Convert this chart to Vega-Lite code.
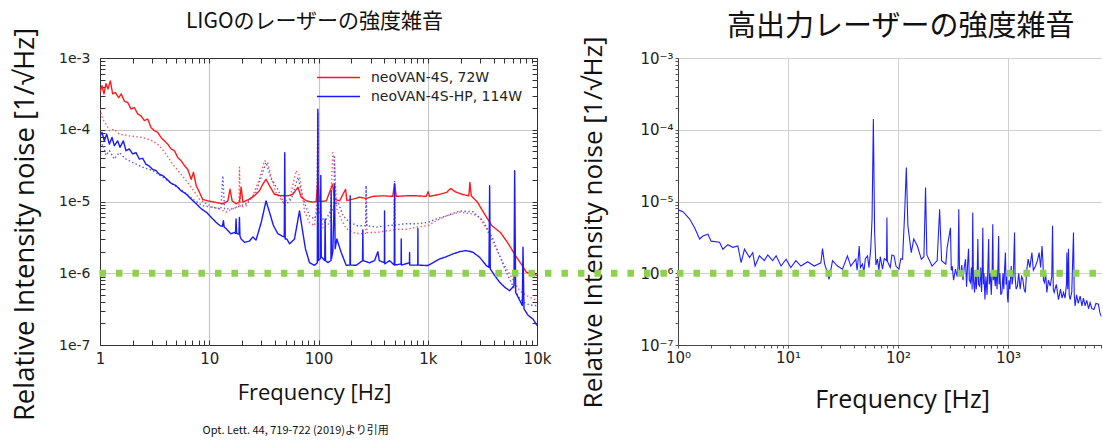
{
 "$schema": "https://vega.github.io/schema/vega-lite/v6.json",
 "padding": {"left": 10, "top": 10, "right": 0, "bottom": 0},
 "background": "white",
 "bounds": "flush",
 "spacing": 141,
 "config": {
  "view": {"stroke": null},
  "axis": {"labelFont": "DejaVu Sans", "titleFont": "Open Sans", "titleFontWeight": "normal", "labelColor": "#222", "titleColor": "#111"},
  "title": {"font": "Noto Sans CJK JP", "fontWeight": "normal", "color": "#111"}
 },
 "title": {"text": "Opt. Lett. 44, 719-722 (2019)より引用", "orient": "bottom", "anchor": "start", "fontSize": 11, "dx": 192, "offset": 4, "font": "Noto Sans CJK JP", "fontWeight": "normal"},
 "datasets": {
  "green": [{"f": 5.5e-6, "f2": 20000, "v": 1e-6}],
  "ligo": [
   {"s":"r","d":"dot","f":1,"v":1.94e-4},{"s":"r","d":"dot","f":1.06,"v":1.41e-4},{"s":"r","d":"dot","f":1.135,"v":1.2e-4},{"s":"r","d":"dot","f":1.22,"v":9.7e-5},{"s":"r","d":"dot","f":1.35,"v":1.02e-4},{"s":"r","d":"dot","f":1.5,"v":8.7e-5},{"s":"r","d":"dot","f":1.86,"v":8.2e-5},{"s":"r","d":"dot","f":2.46,"v":7.8e-5},{"s":"r","d":"dot","f":3.04,"v":7.0e-5},{"s":"r","d":"dot","f":3.49,"v":6.0e-5},{"s":"r","d":"dot","f":4.02,"v":4.6e-5},{"s":"r","d":"dot","f":4.63,"v":3.3e-5},{"s":"r","d":"dot","f":5.33,"v":2.55e-5},{"s":"r","d":"dot","f":6.15,"v":1.95e-5},{"s":"r","d":"dot","f":7.07,"v":1.48e-5},{"s":"r","d":"dot","f":8.12,"v":1.08e-5},{"s":"r","d":"dot","f":9.4,"v":9.3e-6},{"s":"r","d":"dot","f":10.8,"v":8.3e-6},{"s":"r","d":"dot","f":12.4,"v":7.9e-6},{"s":"r","d":"dot","f":14.2,"v":7.1e-6},{"s":"r","d":"dot","f":16.4,"v":7.9e-6},{"s":"r","d":"dot","f":18.7,"v":8.7e-6},{"s":"r","d":"dot","f":18.9,"v":3.0e-5},{"s":"r","d":"dot","f":19.3,"v":8.3e-6},{"s":"r","d":"dot","f":21.7,"v":8.7e-6},{"s":"r","d":"dot","f":25,"v":1.2e-5},{"s":"r","d":"dot","f":28.8,"v":2.05e-5},{"s":"r","d":"dot","f":32,"v":3.7e-5},{"s":"r","d":"dot","f":34.2,"v":3.5e-5},{"s":"r","d":"dot","f":36.9,"v":2.2e-5},{"s":"r","d":"dot","f":40.8,"v":1.34e-5},{"s":"r","d":"dot","f":47.2,"v":9.8e-6},{"s":"r","d":"dot","f":54.3,"v":1.08e-5},{"s":"r","d":"dot","f":62.6,"v":2.7e-5},{"s":"r","d":"dot","f":67,"v":2.3e-5},{"s":"r","d":"dot","f":74.8,"v":7.1e-6},{"s":"r","d":"dot","f":82.7,"v":5.1e-6},{"s":"r","d":"dot","f":91.9,"v":4.6e-6},{"s":"r","d":"dot","f":96.5,"v":9.8e-6},{"s":"r","d":"dot","f":98.6,"v":1.65e-4},{"s":"r","d":"dot","f":100.7,"v":7.9e-6},{"s":"r","d":"dot","f":110.5,"v":4.2e-6},{"s":"r","d":"dot","f":127.5,"v":5.1e-6},{"s":"r","d":"dot","f":135,"v":4.8e-5},{"s":"r","d":"dot","f":140,"v":3.5e-5},{"s":"r","d":"dot","f":147,"v":7.9e-6},{"s":"r","d":"dot","f":161,"v":5.7e-6},{"s":"r","d":"dot","f":179,"v":4.2e-6},{"s":"r","d":"dot","f":207,"v":3.7e-6},{"s":"r","d":"dot","f":238,"v":3.55e-6},{"s":"r","d":"dot","f":270,"v":3.6e-6},{"s":"r","d":"dot","f":273,"v":1.66e-5},{"s":"r","d":"dot","f":278,"v":3.7e-6},{"s":"r","d":"dot","f":339,"v":3.7e-6},{"s":"r","d":"dot","f":417,"v":3.9e-6},{"s":"r","d":"dot","f":494,"v":4.0e-6},{"s":"r","d":"dot","f":497,"v":1.85e-5},{"s":"r","d":"dot","f":500,"v":4.1e-6},{"s":"r","d":"dot","f":638,"v":4.1e-6},{"s":"r","d":"dot","f":789,"v":4.4e-6},{"s":"r","d":"dot","f":1003,"v":4.6e-6},{"s":"r","d":"dot","f":1195,"v":5.4e-6},{"s":"r","d":"dot","f":1477,"v":6.3e-6},{"s":"r","d":"dot","f":1957,"v":7.1e-6},{"s":"r","d":"dot","f":2593,"v":6.7e-6},{"s":"r","d":"dot","f":2985,"v":6.0e-6},{"s":"r","d":"dot","f":3435,"v":4.2e-6},{"s":"r","d":"dot","f":3953,"v":2.7e-6},{"s":"r","d":"dot","f":4550,"v":1.75e-6},{"s":"r","d":"dot","f":5240,"v":1.15e-6},{"s":"r","d":"dot","f":6000,"v":8.3e-7},{"s":"r","d":"dot","f":6939,"v":5.7e-7},{"s":"r","d":"dot","f":7980,"v":4.9e-7},{"s":"r","d":"dot","f":9192,"v":4.4e-7},{"s":"r","d":"dot","f":10000,"v":4.2e-7},
   {"s":"b","d":"dot","f":1,"v":5.4e-5},{"s":"b","d":"dot","f":1.06,"v":6.3e-5},{"s":"b","d":"dot","f":1.135,"v":4.4e-5},{"s":"b","d":"dot","f":1.22,"v":5.1e-5},{"s":"b","d":"dot","f":1.35,"v":3.9e-5},{"s":"b","d":"dot","f":1.5,"v":4.8e-5},{"s":"b","d":"dot","f":1.73,"v":3.9e-5},{"s":"b","d":"dot","f":1.99,"v":3.5e-5},{"s":"b","d":"dot","f":2.46,"v":3.0e-5},{"s":"b","d":"dot","f":3.04,"v":2.7e-5},{"s":"b","d":"dot","f":3.75,"v":2.18e-5},{"s":"b","d":"dot","f":4.63,"v":1.74e-5},{"s":"b","d":"dot","f":5.72,"v":1.41e-5},{"s":"b","d":"dot","f":7.07,"v":1.08e-5},{"s":"b","d":"dot","f":8.7,"v":8.7e-6},{"s":"b","d":"dot","f":10.8,"v":8.3e-6},{"s":"b","d":"dot","f":12.8,"v":7.9e-6},{"s":"b","d":"dot","f":13.3,"v":2.29e-5},{"s":"b","d":"dot","f":13.8,"v":7.9e-6},{"s":"b","d":"dot","f":16.4,"v":7.9e-6},{"s":"b","d":"dot","f":21.7,"v":9.3e-6},{"s":"b","d":"dot","f":26.8,"v":1.34e-5},{"s":"b","d":"dot","f":30.9,"v":2.55e-5},{"s":"b","d":"dot","f":33.1,"v":3.5e-5},{"s":"b","d":"dot","f":36.9,"v":2.06e-5},{"s":"b","d":"dot","f":42.5,"v":1.48e-5},{"s":"b","d":"dot","f":49,"v":8.7e-6},{"s":"b","d":"dot","f":56.4,"v":1.08e-5},{"s":"b","d":"dot","f":64.9,"v":2.18e-5},{"s":"b","d":"dot","f":72.4,"v":1.08e-5},{"s":"b","d":"dot","f":82.7,"v":6.3e-6},{"s":"b","d":"dot","f":91.9,"v":5.7e-6},{"s":"b","d":"dot","f":97.5,"v":7.0e-6},{"s":"b","d":"dot","f":98.6,"v":1.74e-4},{"s":"b","d":"dot","f":100,"v":8.0e-6},{"s":"b","d":"dot","f":102,"v":7.1e-6},{"s":"b","d":"dot","f":114,"v":5.1e-6},{"s":"b","d":"dot","f":127,"v":7.1e-6},{"s":"b","d":"dot","f":138,"v":8.0e-6},{"s":"b","d":"dot","f":140,"v":4.4e-5},{"s":"b","d":"dot","f":142,"v":9.0e-6},{"s":"b","d":"dot","f":151,"v":9.8e-6},{"s":"b","d":"dot","f":168,"v":6.3e-6},{"s":"b","d":"dot","f":193,"v":5.1e-6},{"s":"b","d":"dot","f":227,"v":4.6e-6},{"s":"b","d":"dot","f":270,"v":4.6e-6},{"s":"b","d":"dot","f":273,"v":1.66e-5},{"s":"b","d":"dot","f":276,"v":4.6e-6},{"s":"b","d":"dot","f":339,"v":4.4e-6},{"s":"b","d":"dot","f":417,"v":4.6e-6},{"s":"b","d":"dot","f":494,"v":4.7e-6},{"s":"b","d":"dot","f":497,"v":1.95e-5},{"s":"b","d":"dot","f":500,"v":4.7e-6},{"s":"b","d":"dot","f":638,"v":4.9e-6},{"s":"b","d":"dot","f":789,"v":4.9e-6},{"s":"b","d":"dot","f":1003,"v":5.1e-6},{"s":"b","d":"dot","f":1195,"v":5.7e-6},{"s":"b","d":"dot","f":1477,"v":6.3e-6},{"s":"b","d":"dot","f":1957,"v":7.4e-6},{"s":"b","d":"dot","f":2593,"v":7.2e-6},{"s":"b","d":"dot","f":3200,"v":5.4e-6},{"s":"b","d":"dot","f":3953,"v":3.0e-6},{"s":"b","d":"dot","f":4550,"v":1.75e-6},{"s":"b","d":"dot","f":5240,"v":1.03e-6},{"s":"b","d":"dot","f":6000,"v":6.7e-7},{"s":"b","d":"dot","f":6939,"v":4.4e-7},{"s":"b","d":"dot","f":7980,"v":3.75e-7},{"s":"b","d":"dot","f":9192,"v":3.55e-7},{"s":"b","d":"dot","f":10000,"v":3.55e-7},
   {"s":"R","d":"solid","f":1,"v":3.3e-4},{"s":"R","d":"solid","f":1.043,"v":4.1e-4},{"s":"R","d":"solid","f":1.088,"v":3.16e-4},{"s":"R","d":"solid","f":1.135,"v":4.4e-4},{"s":"R","d":"solid","f":1.184,"v":3.7e-4},{"s":"R","d":"solid","f":1.243,"v":4.8e-4},{"s":"R","d":"solid","f":1.306,"v":3.16e-4},{"s":"R","d":"solid","f":1.382,"v":3.3e-4},{"s":"R","d":"solid","f":1.483,"v":2.8e-4},{"s":"R","d":"solid","f":1.568,"v":3.16e-4},{"s":"R","d":"solid","f":1.67,"v":2.5e-4},{"s":"R","d":"solid","f":1.792,"v":2.4e-4},{"s":"R","d":"solid","f":1.923,"v":1.95e-4},{"s":"R","d":"solid","f":2.063,"v":2.04e-4},{"s":"R","d":"solid","f":2.214,"v":1.66e-4},{"s":"R","d":"solid","f":2.375,"v":1.56e-4},{"s":"R","d":"solid","f":2.548,"v":1.34e-4},{"s":"R","d":"solid","f":2.734,"v":1.41e-4},{"s":"R","d":"solid","f":2.933,"v":1.07e-4},{"s":"R","d":"solid","f":3.147,"v":9.7e-5},{"s":"R","d":"solid","f":3.376,"v":9.2e-5},{"s":"R","d":"solid","f":3.622,"v":7.8e-5},{"s":"R","d":"solid","f":3.886,"v":7.0e-5},{"s":"R","d":"solid","f":4.169,"v":6.3e-5},{"s":"R","d":"solid","f":4.47,"v":5.4e-5},{"s":"R","d":"solid","f":4.8,"v":5.1e-5},{"s":"R","d":"solid","f":5.15,"v":4.1e-5},{"s":"R","d":"solid","f":5.53,"v":3.7e-5},{"s":"R","d":"solid","f":5.93,"v":3.16e-5},{"s":"R","d":"solid","f":6.36,"v":2.8e-5},{"s":"R","d":"solid","f":6.83,"v":2.04e-5},{"s":"R","d":"solid","f":7.17,"v":2.55e-5},{"s":"R","d":"solid","f":7.6,"v":1.66e-5},{"s":"R","d":"solid","f":8.12,"v":1.35e-5},{"s":"R","d":"solid","f":8.71,"v":1.07e-5},{"s":"R","d":"solid","f":9.69,"v":1.02e-5},{"s":"R","d":"solid","f":11.2,"v":9.8e-6},{"s":"R","d":"solid","f":13.3,"v":9.3e-6},{"s":"R","d":"solid","f":14.8,"v":1.02e-5},{"s":"R","d":"solid","f":15.5,"v":1.48e-5},{"s":"R","d":"solid","f":16.2,"v":1.02e-5},{"s":"R","d":"solid","f":17.6,"v":9.3e-6},{"s":"R","d":"solid","f":18.9,"v":9.8e-6},{"s":"R","d":"solid","f":19.6,"v":1.58e-5},{"s":"R","d":"solid","f":20.3,"v":9.8e-6},{"s":"R","d":"solid","f":23.3,"v":1.08e-5},{"s":"R","d":"solid","f":25.9,"v":1.2e-5},{"s":"R","d":"solid","f":28.8,"v":1.41e-5},{"s":"R","d":"solid","f":30.9,"v":1.74e-5},{"s":"R","d":"solid","f":33.1,"v":2.04e-5},{"s":"R","d":"solid","f":35.6,"v":1.66e-5},{"s":"R","d":"solid","f":39.6,"v":1.26e-5},{"s":"R","d":"solid","f":45.5,"v":1.2e-5},{"s":"R","d":"solid","f":52.5,"v":1.2e-5},{"s":"R","d":"solid","f":58.3,"v":1.26e-5},{"s":"R","d":"solid","f":64.9,"v":1.58e-5},{"s":"R","d":"solid","f":69.4,"v":1.15e-5},{"s":"R","d":"solid","f":77.3,"v":1.02e-5},{"s":"R","d":"solid","f":88.8,"v":9.8e-6},{"s":"R","d":"solid","f":95.2,"v":1.0e-5},{"s":"R","d":"solid","f":98.9,"v":2.0e-5},{"s":"R","d":"solid","f":102,"v":1.0e-5},{"s":"R","d":"solid","f":118,"v":1.02e-5},{"s":"R","d":"solid","f":134.5,"v":1.74e-5},{"s":"R","d":"solid","f":140,"v":1.08e-5},{"s":"R","d":"solid","f":156,"v":1.02e-5},{"s":"R","d":"solid","f":177,"v":1.48e-5},{"s":"R","d":"solid","f":182,"v":1.03e-5},{"s":"R","d":"solid","f":207,"v":1.08e-5},{"s":"R","d":"solid","f":238,"v":1.15e-5},{"s":"R","d":"solid","f":273,"v":1.1e-5},{"s":"R","d":"solid","f":314,"v":1.18e-5},{"s":"R","d":"solid","f":389,"v":1.2e-5},{"s":"R","d":"solid","f":478,"v":1.18e-5},{"s":"R","d":"solid","f":497,"v":1.74e-5},{"s":"R","d":"solid","f":515,"v":1.18e-5},{"s":"R","d":"solid","f":638,"v":1.2e-5},{"s":"R","d":"solid","f":789,"v":1.2e-5},{"s":"R","d":"solid","f":969,"v":1.18e-5},{"s":"R","d":"solid","f":1008,"v":1.37e-5},{"s":"R","d":"solid","f":1038,"v":1.18e-5},{"s":"R","d":"solid","f":1289,"v":1.26e-5},{"s":"R","d":"solid","f":1488,"v":1.34e-5},{"s":"R","d":"solid","f":1622,"v":1.52e-5},{"s":"R","d":"solid","f":1782,"v":1.37e-5},{"s":"R","d":"solid","f":2059,"v":1.26e-5},{"s":"R","d":"solid","f":2378,"v":1.2e-5},{"s":"R","d":"solid","f":2431,"v":1.85e-5},{"s":"R","d":"solid","f":2502,"v":1.2e-5},{"s":"R","d":"solid","f":2850,"v":9.8e-6},{"s":"R","d":"solid","f":3230,"v":7.1e-6},{"s":"R","d":"solid","f":3866,"v":4.6e-6},{"s":"R","d":"solid","f":4626,"v":3.7e-6},{"s":"R","d":"solid","f":5480,"v":2.57e-6},{"s":"R","d":"solid","f":6320,"v":1.78e-6},{"s":"R","d":"solid","f":7300,"v":1.29e-6},{"s":"R","d":"solid","f":8000,"v":1.03e-6},{"s":"R","d":"solid","f":9250,"v":9.8e-7},{"s":"R","d":"solid","f":10000,"v":9.3e-7},
   {"s":"B","d":"solid","f":1,"v":8.2e-5},{"s":"B","d":"solid","f":1.043,"v":9.2e-5},{"s":"B","d":"solid","f":1.096,"v":7.0e-5},{"s":"B","d":"solid","f":1.151,"v":8.7e-5},{"s":"B","d":"solid","f":1.218,"v":6.3e-5},{"s":"B","d":"solid","f":1.288,"v":7.8e-5},{"s":"B","d":"solid","f":1.353,"v":6.0e-5},{"s":"B","d":"solid","f":1.451,"v":7.0e-5},{"s":"B","d":"solid","f":1.524,"v":5.7e-5},{"s":"B","d":"solid","f":1.636,"v":7.0e-5},{"s":"B","d":"solid","f":1.731,"v":5.1e-5},{"s":"B","d":"solid","f":1.856,"v":5.4e-5},{"s":"B","d":"solid","f":1.991,"v":4.6e-5},{"s":"B","d":"solid","f":2.136,"v":4.8e-5},{"s":"B","d":"solid","f":2.291,"v":3.9e-5},{"s":"B","d":"solid","f":2.458,"v":4.0e-5},{"s":"B","d":"solid","f":2.637,"v":3.3e-5},{"s":"B","d":"solid","f":2.829,"v":3.1e-5},{"s":"B","d":"solid","f":3.035,"v":2.8e-5},{"s":"B","d":"solid","f":3.256,"v":2.7e-5},{"s":"B","d":"solid","f":3.493,"v":2.4e-5},{"s":"B","d":"solid","f":3.747,"v":2.3e-5},{"s":"B","d":"solid","f":4.02,"v":2.1e-5},{"s":"B","d":"solid","f":4.47,"v":1.8e-5},{"s":"B","d":"solid","f":4.97,"v":1.66e-5},{"s":"B","d":"solid","f":5.53,"v":1.41e-5},{"s":"B","d":"solid","f":6.15,"v":1.27e-5},{"s":"B","d":"solid","f":6.83,"v":1.08e-5},{"s":"B","d":"solid","f":7.6,"v":9.3e-6},{"s":"B","d":"solid","f":8.45,"v":7.9e-6},{"s":"B","d":"solid","f":9.4,"v":7.1e-6},{"s":"B","d":"solid","f":10.45,"v":6.0e-6},{"s":"B","d":"solid","f":11.6,"v":5.1e-6},{"s":"B","d":"solid","f":12.55,"v":4.6e-6},{"s":"B","d":"solid","f":13.2,"v":4.5e-6},{"s":"B","d":"solid","f":13.47,"v":5.4e-6},{"s":"B","d":"solid","f":13.7,"v":4.4e-6},{"s":"B","d":"solid","f":14.23,"v":4.2e-6},{"s":"B","d":"solid","f":15.8,"v":3.55e-6},{"s":"B","d":"solid","f":17.0,"v":3.7e-6},{"s":"B","d":"solid","f":17.4,"v":3.6e-6},{"s":"B","d":"solid","f":17.6,"v":5.7e-6},{"s":"B","d":"solid","f":17.8,"v":3.6e-6},{"s":"B","d":"solid","f":18.7,"v":3.5e-6},{"s":"B","d":"solid","f":18.9,"v":6.0e-6},{"s":"B","d":"solid","f":19.1,"v":3.3e-6},{"s":"B","d":"solid","f":19.6,"v":3.0e-6},{"s":"B","d":"solid","f":21,"v":2.7e-6},{"s":"B","d":"solid","f":23.3,"v":2.8e-6},{"s":"B","d":"solid","f":25,"v":3.2e-6},{"s":"B","d":"solid","f":26.8,"v":2.9e-6},{"s":"B","d":"solid","f":29.9,"v":5.1e-6},{"s":"B","d":"solid","f":33.1,"v":1.02e-5},{"s":"B","d":"solid","f":35.6,"v":7.1e-6},{"s":"B","d":"solid","f":38.7,"v":4.6e-6},{"s":"B","d":"solid","f":42.5,"v":3.55e-6},{"s":"B","d":"solid","f":46.6,"v":3.3e-6},{"s":"B","d":"solid","f":48.6,"v":3.2e-6},{"s":"B","d":"solid","f":49.1,"v":4.8e-5},{"s":"B","d":"solid","f":49.6,"v":3.0e-6},{"s":"B","d":"solid","f":51.4,"v":3.0e-6},{"s":"B","d":"solid","f":54.3,"v":2.57e-6},{"s":"B","d":"solid","f":60.3,"v":3.0e-6},{"s":"B","d":"solid","f":67,"v":7.4e-6},{"s":"B","d":"solid","f":70.9,"v":4.2e-6},{"s":"B","d":"solid","f":76,"v":2.18e-6},{"s":"B","d":"solid","f":82.7,"v":1.41e-6},{"s":"B","d":"solid","f":91.9,"v":1.29e-6},{"s":"B","d":"solid","f":97.5,"v":1.4e-6},{"s":"B","d":"solid","f":98.6,"v":1.94e-4},{"s":"B","d":"solid","f":99.7,"v":1.5e-6},{"s":"B","d":"solid","f":104,"v":1.6e-6},{"s":"B","d":"solid","f":105,"v":2.3e-5},{"s":"B","d":"solid","f":106,"v":1.7e-6},{"s":"B","d":"solid","f":114,"v":1.5e-6},{"s":"B","d":"solid","f":115,"v":5.7e-6},{"s":"B","d":"solid","f":116,"v":1.5e-6},{"s":"B","d":"solid","f":121.8,"v":1.41e-6},{"s":"B","d":"solid","f":130,"v":1.5e-6},{"s":"B","d":"solid","f":130.6,"v":1.4e-5},{"s":"B","d":"solid","f":131.5,"v":1.6e-6},{"s":"B","d":"solid","f":135.3,"v":2.0e-6},{"s":"B","d":"solid","f":140.2,"v":1.74e-5},{"s":"B","d":"solid","f":142,"v":2.2e-6},{"s":"B","d":"solid","f":147.2,"v":3.0e-6},{"s":"B","d":"solid","f":161.3,"v":1.95e-6},{"s":"B","d":"solid","f":179.2,"v":1.29e-6},{"s":"B","d":"solid","f":194,"v":1.3e-6},{"s":"B","d":"solid","f":195,"v":1.2e-5},{"s":"B","d":"solid","f":196,"v":1.3e-6},{"s":"B","d":"solid","f":221.3,"v":1.29e-6},{"s":"B","d":"solid","f":253,"v":1.5e-6},{"s":"B","d":"solid","f":254.7,"v":4.0e-6},{"s":"B","d":"solid","f":256,"v":1.5e-6},{"s":"B","d":"solid","f":293,"v":1.4e-6},{"s":"B","d":"solid","f":326,"v":1.5e-6},{"s":"B","d":"solid","f":349.5,"v":2.0e-6},{"s":"B","d":"solid","f":360,"v":1.5e-6},{"s":"B","d":"solid","f":401,"v":1.4e-6},{"s":"B","d":"solid","f":402.4,"v":7.4e-6},{"s":"B","d":"solid","f":404,"v":1.35e-6},{"s":"B","d":"solid","f":447,"v":1.5e-6},{"s":"B","d":"solid","f":494,"v":1.3e-6},{"s":"B","d":"solid","f":496.8,"v":1.74e-5},{"s":"B","d":"solid","f":500,"v":1.3e-6},{"s":"B","d":"solid","f":570,"v":1.35e-6},{"s":"B","d":"solid","f":571.9,"v":3.0e-6},{"s":"B","d":"solid","f":574,"v":1.3e-6},{"s":"B","d":"solid","f":680,"v":1.4e-6},{"s":"B","d":"solid","f":681.9,"v":1.95e-6},{"s":"B","d":"solid","f":684,"v":1.3e-6},{"s":"B","d":"solid","f":810,"v":1.3e-6},{"s":"B","d":"solid","f":812.7,"v":4.2e-6},{"s":"B","d":"solid","f":815,"v":1.3e-6},{"s":"B","d":"solid","f":1003,"v":1.28e-6},{"s":"B","d":"solid","f":1115,"v":1.4e-6},{"s":"B","d":"solid","f":1283,"v":1.58e-6},{"s":"B","d":"solid","f":1477,"v":1.7e-6},{"s":"B","d":"solid","f":1700,"v":1.86e-6},{"s":"B","d":"solid","f":1957,"v":2.0e-6},{"s":"B","d":"solid","f":2253,"v":2.07e-6},{"s":"B","d":"solid","f":2593,"v":1.96e-6},{"s":"B","d":"solid","f":2985,"v":1.67e-6},{"s":"B","d":"solid","f":3435,"v":1.28e-6},{"s":"B","d":"solid","f":3634,"v":1.21e-6},{"s":"B","d":"solid","f":3685,"v":1.66e-5},{"s":"B","d":"solid","f":3737,"v":1.15e-6},{"s":"B","d":"solid","f":4096,"v":9.3e-7},{"s":"B","d":"solid","f":4550,"v":7.5e-7},{"s":"B","d":"solid","f":5055,"v":6.4e-7},{"s":"B","d":"solid","f":5618,"v":5.7e-7},{"s":"B","d":"solid","f":6157,"v":6.7e-7},{"s":"B","d":"solid","f":6244,"v":2.68e-5},{"s":"B","d":"solid","f":6378,"v":5.4e-7},{"s":"B","d":"solid","f":6939,"v":4.2e-7},{"s":"B","d":"solid","f":7339,"v":3.55e-7},{"s":"B","d":"solid","f":7443,"v":2.3e-6},{"s":"B","d":"solid","f":7601,"v":3.2e-7},{"s":"B","d":"solid","f":8273,"v":2.6e-7},{"s":"B","d":"solid","f":9192,"v":2.3e-7},{"s":"B","d":"solid","f":10000,"v":1.87e-7}
  ],
  "hp": [
   {"f":1,"v":7.66e-6},{"f":1.11,"v":7.2e-6},{"f":1.276,"v":5.7e-6},{"f":1.416,"v":4.3e-6},{"f":1.571,"v":3.0e-6},{"f":1.685,"v":3.3e-6},{"f":1.871,"v":3.5e-6},{"f":2.0,"v":2.8e-6},{"f":2.386,"v":2.7e-6},{"f":2.56,"v":2.16e-6},{"f":2.84,"v":2.5e-6},{"f":3.15,"v":2.3e-6},{"f":3.5,"v":2.4e-6},{"f":3.75,"v":1.41e-6},{"f":4.02,"v":2.16e-6},{"f":4.47,"v":1.66e-6},{"f":4.78,"v":1.94e-6},{"f":5.02,"v":1.26e-6},{"f":5.5,"v":1.75e-6},{"f":6.1,"v":1.5e-6},{"f":6.55,"v":1.8e-6},{"f":7.25,"v":1.5e-6},{"f":7.8,"v":1.75e-6},{"f":8.65,"v":1.26e-6},{"f":9.6,"v":1.57e-6},{"f":10.6,"v":1.2e-6},{"f":11.8,"v":1.5e-6},{"f":13.1,"v":1.26e-6},{"f":15.1,"v":1.45e-6},{"f":17.3,"v":1.26e-6},{"f":19.9,"v":1.4e-6},{"f":20.6,"v":2.2e-6},{"f":21.5,"v":1.35e-6},{"f":22.8,"v":1.02e-6},{"f":23.6,"v":8.2e-7},{"f":25.4,"v":1.5e-6},{"f":28.2,"v":1.26e-6},{"f":31.3,"v":1.14e-6},{"f":34.7,"v":1.75e-6},{"f":37.2,"v":1.26e-6},{"f":41.4,"v":1.57e-6},{"f":42.5,"v":1.1e-6},{"f":43.5,"v":1.6e-6},{"f":44.4,"v":2.4e-6},{"f":45.5,"v":1.2e-6},{"f":47.5,"v":1.34e-6},{"f":49,"v":1.05e-6},{"f":50.5,"v":1.6e-6},{"f":52.8,"v":1.75e-6},{"f":54.5,"v":1.2e-6},{"f":56.5,"v":2.2e-6},{"f":58.1,"v":5.7e-6},{"f":59.7,"v":1.41e-4},{"f":61.3,"v":3.7e-6},{"f":63,"v":1.3e-6},{"f":65,"v":1.57e-6},{"f":67,"v":1.1e-6},{"f":69,"v":1.7e-6},{"f":72.3,"v":1.14e-6},{"f":75,"v":1.6e-6},{"f":78.6,"v":1.5e-6},{"f":79.3,"v":6.0e-6},{"f":80,"v":1.5e-6},{"f":81.2,"v":1.4e-6},{"f":85,"v":1.2e-6},{"f":88,"v":1.8e-6},{"f":92,"v":1.75e-6},{"f":96,"v":1.25e-6},{"f":102,"v":1.14e-6},{"f":106,"v":1.6e-6},{"f":110,"v":1.57e-6},{"f":115,"v":7.0e-6},{"f":119,"v":2.98e-5},{"f":123,"v":4.6e-6},{"f":132,"v":1.94e-6},{"f":139,"v":3.0e-6},{"f":150,"v":2.4e-6},{"f":163,"v":1.57e-6},{"f":172,"v":1.7e-6},{"f":178,"v":1.57e-5},{"f":183,"v":1.8e-6},{"f":204,"v":1.26e-6},{"f":227,"v":1.5e-6},{"f":239,"v":7.8e-6},{"f":249,"v":1.5e-6},{"f":272,"v":1.34e-6},{"f":280,"v":2.3e-6},{"f":300,"v":4.3e-6},{"f":305,"v":1.1e-6},{"f":311,"v":1.26e-6},{"f":320,"v":8.0e-7},{"f":333,"v":1.14e-6},{"f":345,"v":9.0e-7},{"f":352,"v":1.3e-6},{"f":357,"v":7.8e-6},{"f":362,"v":1.1e-6},{"f":369,"v":9.2e-7},{"f":380,"v":1.3e-6},{"f":390,"v":8.0e-7},{"f":400,"v":1.2e-6},{"f":411,"v":1.57e-6},{"f":420,"v":6.5e-7},{"f":430,"v":1.4e-6},{"f":438,"v":2.2e-6},{"f":445,"v":8.0e-7},{"f":456,"v":7.4e-7},{"f":465,"v":1.2e-6},{"f":472,"v":6.0e-7},{"f":478,"v":7.0e-6},{"f":485,"v":8.0e-7},{"f":497,"v":5.4e-7},{"f":505,"v":1.1e-6},{"f":515,"v":6.0e-7},{"f":525,"v":1.0e-6},{"f":532,"v":3.0e-6},{"f":540,"v":7.0e-7},{"f":553,"v":6.6e-7},{"f":565,"v":1.2e-6},{"f":575,"v":5.5e-7},{"f":583,"v":1.1e-6},{"f":590,"v":4.3e-6},{"f":598,"v":7.0e-7},{"f":605,"v":1.0e-6},{"f":617,"v":4.3e-7},{"f":630,"v":9.0e-7},{"f":645,"v":5.0e-7},{"f":655,"v":1.1e-6},{"f":667,"v":3.0e-6},{"f":675,"v":7.0e-7},{"f":690,"v":1.0e-6},{"f":705,"v":5.0e-7},{"f":718,"v":1.2e-6},{"f":727,"v":4.8e-6},{"f":735,"v":8.0e-7},{"f":750,"v":1.0e-6},{"f":766,"v":6.6e-7},{"f":780,"v":1.1e-6},{"f":795,"v":6.0e-7},{"f":810,"v":1.2e-6},{"f":822,"v":3.3e-6},{"f":830,"v":7.0e-7},{"f":845,"v":1.0e-6},{"f":860,"v":5.0e-7},{"f":881,"v":5.4e-7},{"f":900,"v":1.0e-6},{"f":915,"v":6.0e-7},{"f":930,"v":1.1e-6},{"f":947,"v":1.94e-6},{"f":960,"v":7.0e-7},{"f":975,"v":9.0e-7},{"f":990,"v":4.5e-7},{"f":1002,"v":3.9e-7},{"f":1020,"v":8.0e-7},{"f":1040,"v":6.0e-7},{"f":1069,"v":1.26e-6},{"f":1090,"v":7.0e-7},{"f":1120,"v":1.0e-6},{"f":1147,"v":3.7e-6},{"f":1160,"v":9.0e-7},{"f":1185,"v":6.0e-7},{"f":1218,"v":6.6e-7},{"f":1250,"v":1.0e-6},{"f":1290,"v":6.0e-7},{"f":1330,"v":9.0e-7},{"f":1363,"v":8.3e-7},{"f":1400,"v":6.0e-7},{"f":1437,"v":5.4e-7},{"f":1480,"v":1.1e-6},{"f":1525,"v":1.57e-6},{"f":1580,"v":1.2e-6},{"f":1649,"v":1.94e-6},{"f":1700,"v":1.1e-6},{"f":1780,"v":1.26e-6},{"f":1850,"v":1.5e-6},{"f":1919,"v":1.94e-6},{"f":1980,"v":1.2e-6},{"f":2038,"v":2.4e-6},{"f":2080,"v":1.4e-6},{"f":2100,"v":8.0e-7},{"f":2149,"v":7.4e-7},{"f":2200,"v":1.0e-6},{"f":2255,"v":5.4e-7},{"f":2330,"v":8.0e-7},{"f":2420,"v":6.6e-7},{"f":2500,"v":9.0e-7},{"f":2541,"v":4.6e-6},{"f":2580,"v":6.0e-7},{"f":2630,"v":5.4e-7},{"f":2750,"v":7.0e-7},{"f":2878,"v":4.3e-7},{"f":3000,"v":6.0e-7},{"f":3100,"v":4.5e-7},{"f":3197,"v":5.4e-7},{"f":3300,"v":4.5e-7},{"f":3400,"v":7.0e-7},{"f":3428,"v":1.94e-6},{"f":3490,"v":6.0e-7},{"f":3548,"v":2.2e-6},{"f":3600,"v":5.0e-7},{"f":3673,"v":4.3e-7},{"f":3800,"v":5.5e-7},{"f":3938,"v":3.7e-6},{"f":4000,"v":5.0e-7},{"f":4076,"v":3.5e-7},{"f":4200,"v":5.0e-7},{"f":4350,"v":3.8e-7},{"f":4529,"v":4.8e-7},{"f":4700,"v":3.5e-7},{"f":4850,"v":4.5e-7},{"f":5025,"v":3.5e-7},{"f":5200,"v":4.2e-7},{"f":5400,"v":3.2e-7},{"f":5572,"v":3.9e-7},{"f":5800,"v":3.2e-7},{"f":6058,"v":3.15e-7},{"f":6300,"v":3.8e-7},{"f":6637,"v":3.7e-7},{"f":6850,"v":2.8e-7},{"f":7060,"v":2.5e-7}
  ]
 },
 "hconcat": [
  {
   "width": 437, "height": 287,
   "view": {"stroke": "#333", "strokeWidth": 1},
   "title": {"text": "LIGOのレーザーの強度雑音", "fontSize": 21, "offset": 1, "dx": -4, "dy": 6},
   "layer": [
    {
     "data": {"name": "ligo"},
     "mark": {"type": "line", "clip": true, "strokeWidth": 1.4, "strokeJoin": "round"},
     "encoding": {
      "x": {"field": "f", "type": "quantitative", "scale": {"type": "log", "domain": [1, 10000], "nice": false},
       "axis": {"orient": "bottom", "values": [1,2,3,4,5,6,7,8,9,10,20,30,40,50,60,70,80,90,100,200,300,400,500,600,700,800,900,1000,2000,3000,4000,5000,6000,7000,8000,9000,10000],
        "labelExpr": "datum.value==1?'1':datum.value==10?'10':datum.value==100?'100':datum.value==1000?'1k':datum.value==10000?'10k':''",
        "labelOverlap": false, "labelFlush": false, "labelFontSize": 15, "labelPadding": 11,
        "tickSize": -5, "tickColor": "#333", "domain": false,
        "grid": true, "gridColor": "#c8c8c8", "gridWidth": 1.2,
        "gridOpacity": {"condition": {"test": "datum.value==10||datum.value==100||datum.value==1000", "value": 1}, "value": 0},
        "title": "Frequency [Hz]", "titleFontSize": 22, "titleX": 214, "titleY": 47, "titleBaseline": "middle", "titleAlign": "center"}},
      "y": {"field": "v", "type": "quantitative", "scale": {"type": "log", "domain": [1e-7, 1e-3], "nice": false},
       "axis": {"orient": "left", "values": [1e-7,2e-7,3e-7,4e-7,5e-7,6e-7,7e-7,8e-7,9e-7,1e-6,2e-6,3e-6,4e-6,5e-6,6e-6,7e-6,8e-6,9e-6,1e-5,2e-5,3e-5,4e-5,5e-5,6e-5,7e-5,8e-5,9e-5,1e-4,2e-4,3e-4,4e-4,5e-4,6e-4,7e-4,8e-4,9e-4,1e-3],
        "labelExpr": "datum.value==1e-3?'1e-3':datum.value==1e-4?'1e-4':datum.value==1e-5?'1e-5':datum.value==1e-6?'1e-6':datum.value==1e-7?'1e-7':''",
        "labelOverlap": false, "labelFlush": false, "labelFontSize": 14, "labelPadding": 15,
        "tickSize": -5, "tickColor": "#333", "domain": false,
        "grid": true, "gridColor": "#c8c8c8", "gridWidth": 1.2,
        "gridOpacity": {"condition": {"test": "datum.value==1e-4||datum.value==1e-5||datum.value==1e-6", "value": 1}, "value": 0},
        "title": "Relative Intensity noise [1/√Hz]", "titleFontSize": 27.5, "titleX": -75, "titleY": 166, "titleBaseline": "middle", "titleAlign": "center"}},
      "color": {"field": "s", "type": "nominal", "scale": {"domain": ["r", "b", "R", "B"], "range": ["#ff5555", "#5555ff", "#ff1a1a", "#1a1aff"]},
       "legend": {"orient": "none", "legendX": 227, "legendY": 8, "title": null, "values": ["R", "B"],
        "labelExpr": "datum.value=='R'?'neoVAN-4S, 72W':'neoVAN-4S-HP, 114W'",
        "symbolType": "M-2,0L2,0", "symbolSize": 462, "symbolStrokeWidth": 1.5,
        "labelFont": "DejaVu Sans", "labelFontSize": 14, "labelColor": "#222", "rowPadding": 0, "labelOffset": 21}},
      "strokeDash": {"field": "d", "type": "nominal", "scale": {"domain": ["dot", "solid"], "range": [[1.4, 2.4], [1, 0]]}, "legend": null}
     }
    },
    {
     "data": {"values": [{"f": 1, "v": 1e-6}]},
     "mark": {"type": "point", "opacity": 0},
     "encoding": {
      "x": {"field": "f", "type": "quantitative", "axis": {"orient": "top", "values": [1,2,3,4,5,6,7,8,9,10,20,30,40,50,60,70,80,90,100,200,300,400,500,600,700,800,900,1000,2000,3000,4000,5000,6000,7000,8000,9000,10000], "labels": false, "grid": false, "domain": false, "tickSize": -5, "tickColor": "#333", "title": null}},
      "y": {"field": "v", "type": "quantitative", "axis": {"orient": "right", "values": [1e-7,2e-7,3e-7,4e-7,5e-7,6e-7,7e-7,8e-7,9e-7,1e-6,2e-6,3e-6,4e-6,5e-6,6e-6,7e-6,8e-6,9e-6,1e-5,2e-5,3e-5,4e-5,5e-5,6e-5,7e-5,8e-5,9e-5,1e-4,2e-4,3e-4,4e-4,5e-4,6e-4,7e-4,8e-4,9e-4,1e-3], "labels": false, "grid": false, "domain": false, "tickSize": -5, "tickColor": "#333", "title": null}}
     }
    }
   ],
   "resolve": {"axis": {"x": "independent", "y": "independent"}}
  },
  {
   "width": 423.5, "height": 287,
   "title": {"text": "高出力レーザーの強度雑音", "fontSize": 29, "offset": 0, "dx": 11, "dy": 6},
   "layer": [
    {
     "data": {"name": "hp"},
     "mark": {"type": "line", "clip": true, "color": "#2020ff", "strokeWidth": 1.1},
     "encoding": {
      "x": {"field": "f", "type": "quantitative", "scale": {"type": "log", "domain": [1, 7079], "nice": false},
       "axis": {"orient": "bottom", "values": [1,2,3,4,5,6,7,8,9,10,20,30,40,50,60,70,80,90,100,200,300,400,500,600,700,800,900,1000,2000,3000,4000,5000,6000,7000],
        "labelExpr": "datum.value==1?'10⁰':datum.value==10?'10¹':datum.value==100?'10²':datum.value==1000?'10³':''",
        "labelOverlap": false, "labelFlush": false, "labelFontSize": 15, "labelPadding": 2,
        "tickSize": 3, "tickColor": "#555", "domain": true, "domainColor": "#444",
        "grid": true, "gridColor": "#d0d0d0", "gridWidth": 1,
        "gridOpacity": {"condition": {"test": "datum.value==1||datum.value==10||datum.value==100||datum.value==1000", "value": 1}, "value": 0},
        "title": "Frequency [Hz]", "titleFontSize": 25, "titleX": 224, "titleY": 54, "titleBaseline": "middle", "titleAlign": "center"}},
      "y": {"field": "v", "type": "quantitative", "scale": {"type": "log", "domain": [1e-7, 1e-3], "nice": false},
       "axis": {"orient": "left", "values": [1e-7,2e-7,3e-7,4e-7,5e-7,6e-7,7e-7,8e-7,9e-7,1e-6,2e-6,3e-6,4e-6,5e-6,6e-6,7e-6,8e-6,9e-6,1e-5,2e-5,3e-5,4e-5,5e-5,6e-5,7e-5,8e-5,9e-5,1e-4,2e-4,3e-4,4e-4,5e-4,6e-4,7e-4,8e-4,9e-4,1e-3],
        "labelExpr": "datum.value==1e-3?'10⁻³':datum.value==1e-4?'10⁻⁴':datum.value==1e-5?'10⁻⁵':datum.value==1e-6?'10⁻⁶':datum.value==1e-7?'10⁻⁷':''",
        "labelOverlap": false, "labelFlush": false, "labelFontSize": 15, "labelPadding": 2,
        "tickSize": 3, "tickColor": "#555", "domain": true, "domainColor": "#444",
        "grid": true, "gridColor": "#d0d0d0", "gridWidth": 1,
        "gridOpacity": {"condition": {"test": "datum.value==1e-3||datum.value==1e-4||datum.value==1e-5||datum.value==1e-6", "value": 1}, "value": 0},
        "title": "Relative Intensity noise [1/√Hz]", "titleFontSize": 26, "titleX": -85, "titleY": 164, "titleBaseline": "middle", "titleAlign": "center"}}
     }
    },
    {
     "data": {"name": "green"},
     "mark": {"type": "rule", "clip": false, "color": "#8fd14f", "strokeWidth": 7, "strokeDash": [6.5, 10], "strokeCap": "butt"},
     "encoding": {
      "x": {"field": "f", "type": "quantitative", "title": "Frequency [Hz]"},
      "x2": {"field": "f2"},
      "y": {"field": "v", "type": "quantitative", "title": "Relative Intensity noise [1/√Hz]"}
     }
    }
   ]
  }
 ]
}
